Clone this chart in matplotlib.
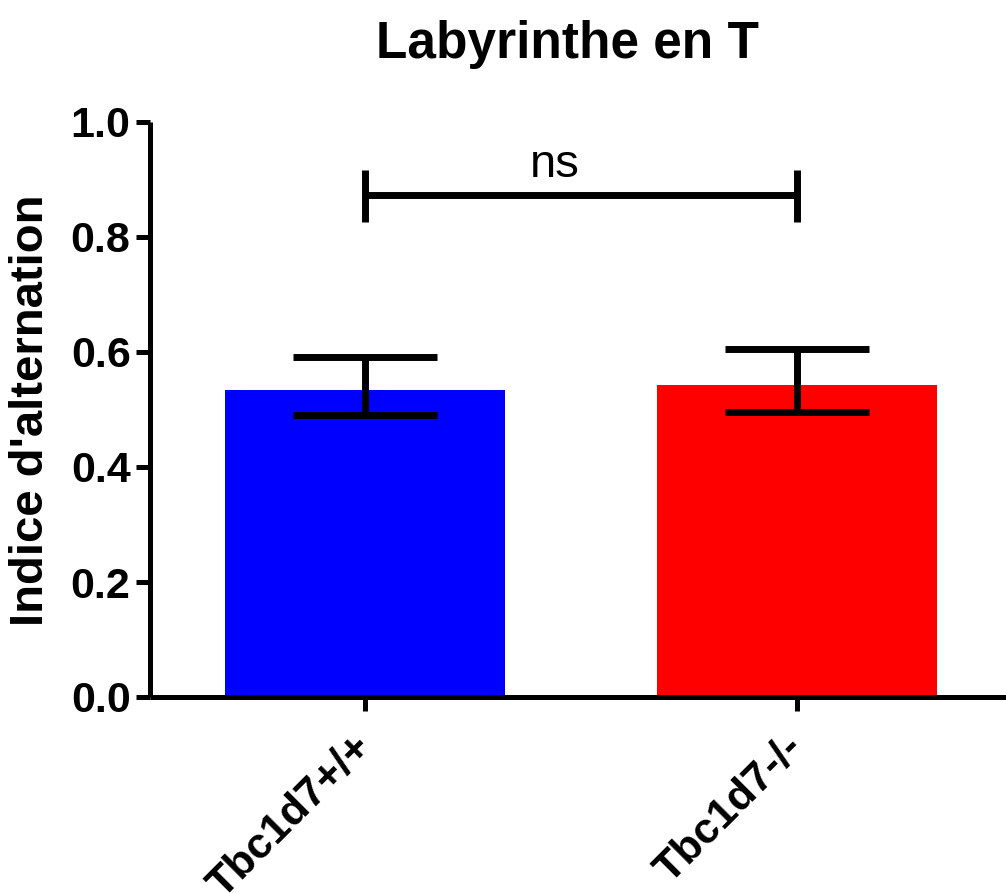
import matplotlib
matplotlib.use("Agg")
import matplotlib.pyplot as plt
import numpy as np

categories = ["Tbc1d7+/+", "Tbc1d7-/-"]
means = [0.534, 0.543]
err_upper = [0.058, 0.063]
err_lower = [0.044, 0.047]
bar_colors = ["#0000FF", "#FF0000"]
yticks = [0.0, 0.2, 0.4, 0.6, 0.8, 1.0]
sig_y = 0.873
sig_tick_top = 0.917
sig_tick_bottom = 0.826
sig_label = "ns"
title = "Labyrinthe en T"
ylabel = "Indice d'alternation"

plt.rcParams['font.family'] = ['Liberation Sans', 'DejaVu Sans']

W, H = 1006, 893
fig = plt.figure(figsize=(W / 100, H / 100), dpi=100)
ax = fig.add_axes([150 / W, 1 - 697 / H, 1 - 150 / W, (697 - 122) / H])

x = np.arange(len(categories))
ax.bar(x, means, width=0.648, color=bar_colors, zorder=1)
ax.errorbar(x, means, yerr=[err_lower, err_upper], fmt='none', ecolor='black',
            elinewidth=5, capsize=52, capthick=5, zorder=3)

# significance bracket
ax.plot([x[0], x[0]], [sig_tick_bottom, sig_tick_top], color='black', lw=5,
        solid_capstyle='butt', clip_on=False)
ax.plot([x[1], x[1]], [sig_tick_bottom, sig_tick_top], color='black', lw=5,
        solid_capstyle='butt', clip_on=False)
ax.plot([x[0], x[1]], [sig_y, sig_y], color='black', lw=5,
        solid_capstyle='butt', clip_on=False)
ax.text(0.44, sig_y + 0.014, sig_label, ha='center', va='bottom',
        fontsize=34, fontweight='normal')

ax.set_xlim(-0.498, 1.484)
ax.set_ylim(0, 1.0)
ax.set_yticks(yticks)
ax.set_yticklabels([f"{t:.1f}" for t in yticks], fontsize=31, fontweight='bold')
ax.set_xticks(x)
ax.set_xticklabels(categories, fontsize=31, fontweight='bold', rotation=45,
                   ha='right', va='center', rotation_mode='anchor')

for s in ['top', 'right']:
    ax.spines[s].set_visible(False)
for s in ['left', 'bottom']:
    ax.spines[s].set_linewidth(3.6)
    ax.spines[s].set_capstyle('butt')
ax.tick_params(axis='both', direction='out', length=10, width=3.6, pad=4)
ax.tick_params(axis='x', pad=22)

fig.text(567 / W, 1 - 58 / H, title, ha='center', va='baseline', fontsize=37,
         fontweight='bold')
fig.text(31 / W, 1 - 410 / H, ylabel, ha='center', va='center', rotation=90,
         fontsize=34, fontweight='bold')

fig.savefig("out.png", dpi=100)
